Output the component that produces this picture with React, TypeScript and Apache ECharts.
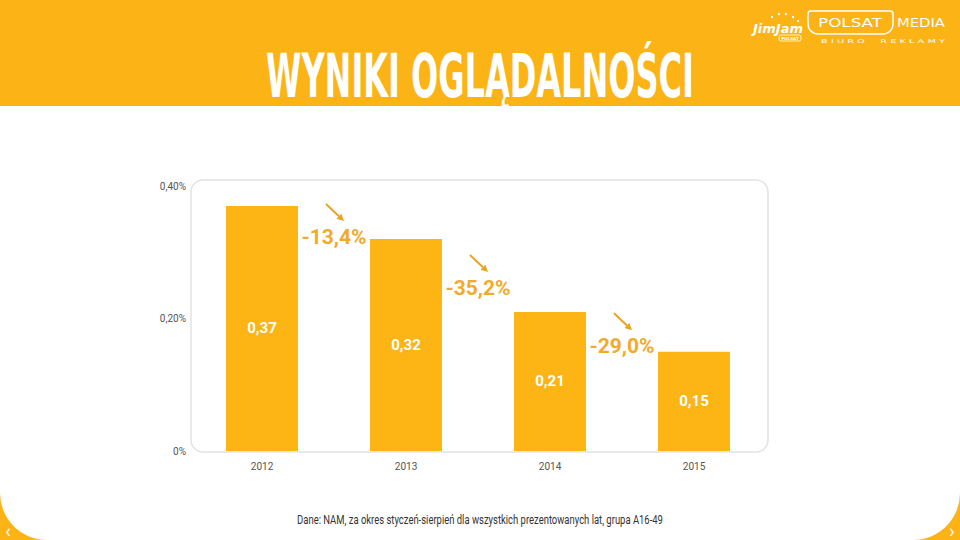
import React, { useEffect, useRef } from "react";
import * as echarts from "echarts";

const years = ["2012", "2013", "2014", "2015"];
const ratings = [0.37, 0.32, 0.21, 0.15];
const changes = ["-13,4%", "-35,2%", "-29,0%"];
const changeLabelLevels = [0.323, 0.246, 0.158];
const yTicks = { min: 0, max: 0.4, interval: 0.2 };
const titleText = "WYNIKI OGLĄDALNOŚCI";
const footnote = "Dane: NAM, za okres styczeń-sierpień dla wszystkich prezentowanych lat, grupa A16-49";

const ORANGE = "#FCB316";
const BAR = "#FDB515";
const LABEL = "#F3AA2B";

function fitScale(text: string, font: string, target: number) {
  const ctx = document.createElement("canvas").getContext("2d");
  if (!ctx) return 1;
  ctx.font = font;
  const w = ctx.measureText(text).width;
  return w > 0 ? target / w : 1;
}

export default function App() {
  const ref = useRef<HTMLDivElement>(null);
  useEffect(() => {
    if (!ref.current) return;
    const chart = echarts.init(ref.current, null, { renderer: "svg" });
    const titleFont = "bold 60px 'Liberation Sans Narrow', 'DejaVu Sans Condensed', sans-serif";
    const titleScale = fitScale(titleText, titleFont, 428);
    const footFont = "12px Roboto";
    const footScale = fitScale(footnote, footFont, 366);
    const polsatFont = "12px 'DejaVu Sans'";
    const polsatScale = fitScale("POLSAT", polsatFont, 64);
    const mediaScale = fitScale("MEDIA", polsatFont, 48);
    const biuro = "B I U R O     R E K L A M Y";
    const biuroFont = "5px 'DejaVu Sans'";
    const biuroScale = fitScale(biuro, biuroFont, 124);

    const option: any = {
      animation: false,
      backgroundColor: ORANGE,
      grid: { left: 190, right: 194, top: 186, bottom: 89 },
      xAxis: {
        type: "category",
        data: years,
        axisLine: { show: false },
        axisTick: { show: false },
        axisLabel: { color: "#555", fontSize: 10, fontFamily: "Roboto", margin: 10 },
      },
      yAxis: {
        type: "value",
        min: yTicks.min,
        max: yTicks.max,
        interval: yTicks.interval,
        axisLine: { show: false },
        axisTick: { show: false },
        splitLine: { show: false },
        axisLabel: {
          color: "#555",
          fontSize: 10,
          fontFamily: "Roboto",
          margin: 4,
          formatter: (v: number) => (v === 0 ? "0%" : v.toFixed(2).replace(".", ",") + "%"),
        },
      },
      graphic: [
        {
          type: "rect",
          z: 0,
          silent: true,
          shape: { x: 0, y: 106, width: 960, height: 434, r: [0, 0, 47, 47] },
          style: { fill: "#fff" },
        },
        {
          type: "rect",
          z: 1,
          silent: true,
          shape: { x: 191, y: 180, width: 577, height: 272, r: 12 },
          style: { fill: "none", stroke: "#e2e2e2", lineWidth: 1.5 },
        },
        {
          type: "text",
          z: 10,
          x: 480,
          y: 76,
          scaleX: titleScale,
          style: {
            text: titleText,
            fill: "#fff",
            font: titleFont,
            textAlign: "center",
            textVerticalAlign: "middle",
          },
        },
        {
          type: "text",
          z: 10,
          x: 480,
          y: 520,
          scaleX: footScale,
          style: { text: footnote, fill: "#333", font: footFont, textAlign: "center", textVerticalAlign: "middle" },
        },
        {
          type: "text",
          z: 10,
          x: 8,
          y: 530,
          style: { text: "‹", fill: "#fff", font: "18px Roboto", textAlign: "center", textVerticalAlign: "middle" },
        },
        {
          type: "text",
          z: 10,
          x: 952,
          y: 530,
          style: { text: "›", fill: "#fff", font: "18px Roboto", textAlign: "center", textVerticalAlign: "middle" },
        },
        // JimJam logo
        {
          type: "text",
          z: 10,
          x: 778,
          y: 28,
          style: {
            text: "JimJam",
            fill: "#fff",
            font: "bold italic 13px 'DejaVu Sans'",
            textAlign: "center",
            textVerticalAlign: "middle",
          },
        },
        ...[
          [772, 17],
          [779, 14],
          [786, 14],
          [793, 17],
          [798, 21],
        ].map((p) => ({
          type: "circle",
          z: 10,
          shape: { cx: p[0], cy: p[1], r: 1.2 },
          style: { fill: "#fff" },
        })),
        {
          type: "rect",
          z: 10,
          shape: { x: 779, y: 35, width: 22, height: 6, r: 2 },
          style: { fill: "none", stroke: "#fff", lineWidth: 0.8 },
        },
        {
          type: "text",
          z: 10,
          x: 790,
          y: 38,
          style: { text: "POLSAT", fill: "#fff", font: "bold 4px 'DejaVu Sans'", textAlign: "center", textVerticalAlign: "middle" },
        },
        // Polsat Media logo
        {
          type: "rect",
          z: 10,
          shape: { x: 808, y: 11, width: 85, height: 23, r: [3, 3, 10, 10] },
          style: { fill: "none", stroke: "#fff", lineWidth: 1.5 },
        },
        {
          type: "text",
          z: 10,
          x: 850,
          y: 22.5,
          scaleX: polsatScale,
          style: { text: "POLSAT", fill: "#fff", font: polsatFont, textAlign: "center", textVerticalAlign: "middle" },
        },
        {
          type: "text",
          z: 10,
          x: 921,
          y: 22.5,
          scaleX: mediaScale,
          style: { text: "MEDIA", fill: "#fff", font: polsatFont, textAlign: "center", textVerticalAlign: "middle" },
        },
        {
          type: "text",
          z: 10,
          x: 883,
          y: 41,
          scaleX: biuroScale,
          style: {
            text: biuro,
            fill: "#fff",
            font: biuroFont,
            textAlign: "center",
            textVerticalAlign: "middle",
          },
        },
      ],
      series: [
        {
          type: "bar",
          data: ratings,
          barWidth: 72,
          itemStyle: { color: BAR },
          z: 2,
          label: {
            show: true,
            position: "inside",
            color: "#fff",
            fontSize: 15,
            fontWeight: "bold",
            fontFamily: "Roboto",
            formatter: (p: any) => p.value.toFixed(2).replace(".", ","),
          },
        },
        {
          type: "custom",
          z: 5,
          data: changes.map((_, i) => [i, changeLabelLevels[i]]),
          renderItem: (params: any, api: any) => {
            const i = params.dataIndex;
            const lvl = api.value(1);
            const a = api.coord([i, lvl]);
            const b = api.coord([i + 1, lvl]);
            const x = (a[0] + b[0]) / 2;
            const y = a[1];
            const x0 = x - 8, y0 = y - 33, x1 = x + 10, y1 = y - 16;
            const dx = x1 - x0, dy = y1 - y0;
            const len = Math.sqrt(dx * dx + dy * dy);
            const ux = dx / len, uy = dy / len;
            const hl = 7, hw = 3.5;
            const bx = x1 - ux * hl, by = y1 - uy * hl;
            return {
              type: "group",
              children: [
                {
                  type: "text",
                  x,
                  y,
                  style: {
                    text: changes[i],
                    fill: LABEL,
                    fontSize: 21,
                    fontWeight: "bold",
                    fontFamily: "Roboto",
                    align: "center",
                    verticalAlign: "middle",
                  },
                },
                {
                  type: "line",
                  shape: { x1: x0, y1: y0, x2: bx, y2: by },
                  style: { stroke: "#EBA421", lineWidth: 2 },
                },
                {
                  type: "polygon",
                  shape: {
                    points: [
                      [x1, y1],
                      [bx - uy * hw, by + ux * hw],
                      [bx + uy * hw, by - ux * hw],
                    ],
                  },
                  style: { fill: "#EBA421" },
                },
              ],
            };
          },
        },
      ],
    };
    chart.setOption(option);
    return () => chart.dispose();
  }, []);
  return <div ref={ref} style={{ position: "fixed", left: 0, top: 0, width: 960, height: 540 }} />;
}
